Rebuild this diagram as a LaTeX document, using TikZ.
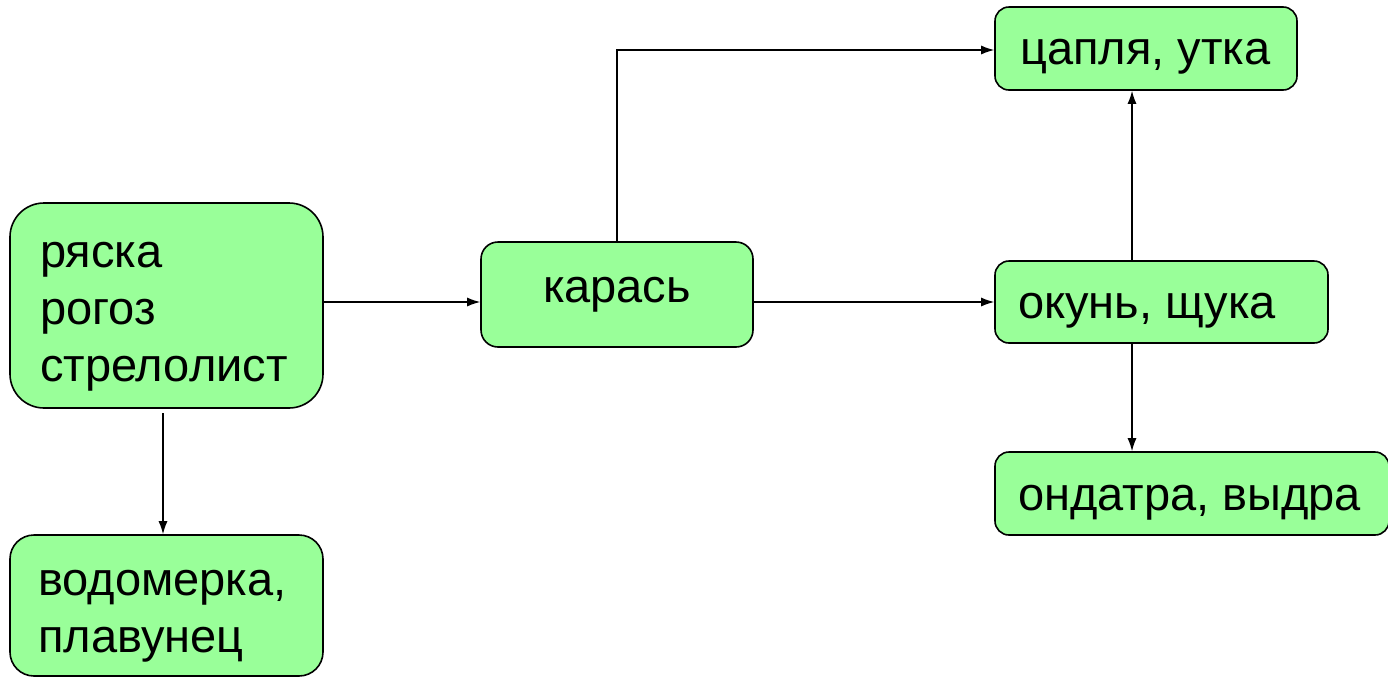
\documentclass[tikz,border=0pt]{standalone}
\usepackage{fontspec}
\setmainfont{Liberation Sans}
\usetikzlibrary{arrows.meta}
\definecolor{boxgreen}{RGB}{153,255,153}
\begin{document}
\begin{tikzpicture}[x=1pt,y=-1pt,
  box/.style={draw=black, fill=boxgreen, line width=1.6pt, rounded corners=#1, inner sep=0pt},
  box/.default=14pt,
  txt/.style={font=\fontsize{47}{57}\selectfont, inner sep=0pt, anchor=base west},
  arr/.style={line width=1.3pt, -{Latex[length=13pt,width=9pt]}}]
\useasboundingbox (0,0) rectangle (1388,678);
% boxes
\node[box=34pt, minimum width=313, minimum height=205] (A) at (166.5,305.5) {};
\node[box=24pt, minimum width=313, minimum height=141] (B) at (166.5,605.5) {};
\node[box=17pt, minimum width=272, minimum height=105] (C) at (617,294.5) {};
\node[box=14pt, minimum width=302, minimum height=83] (D) at (1146,48.5) {};
\node[box=14pt, minimum width=333, minimum height=82] (E) at (1161.5,302) {};
\node[box=14pt, minimum width=394, minimum height=83] (F) at (1192,493.5) {};
% texts
\node[txt] (tA) at (40,267) {\begin{tabular}[t]{@{}l@{}}ряска\\рогоз\\стрелолист\end{tabular}};
\node[txt] (tB) at (38,595) {\begin{tabular}[t]{@{}l@{}}водомерка,\\плавунец\end{tabular}};
\node[txt, anchor=base] (tC) at (617,302) {карась};
\node[txt] (tD) at (1020,64) {цапля, утка};
\node[txt] (tE) at (1018,318) {окунь, щука};
\node[txt] (tF) at (1018,510) {ондатра, выдра};
% helper coordinates
\coordinate (vAB) at (163,413);
\coordinate (vED) at (1132,0);
\coordinate (hCD) at (617,50);
% connectors
\draw[arr] (vAB) -- (vAB |- B.north);
\draw[arr] (A.east |- E.west) -- (C.west |- E.west);
\draw[arr] (C.east |- E.west) -- (E.west);
\draw[arr] (C.north) -- (hCD) -- (D.west |- hCD);
\draw[arr] (vED |- E.north) -- (vED |- D.south);
\draw[arr] (vED |- E.south) -- (vED |- F.north);
\end{tikzpicture}
\end{document}
